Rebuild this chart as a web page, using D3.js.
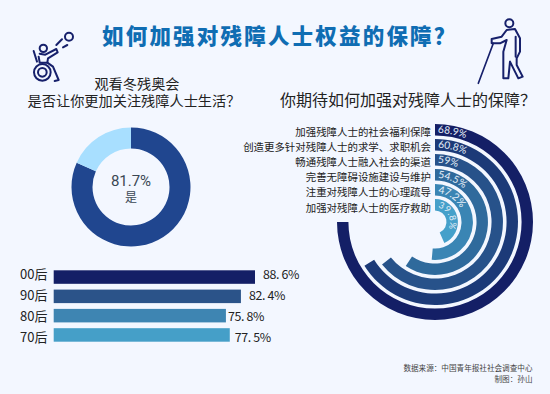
<!DOCTYPE html>
<html><head><meta charset="utf-8">
<script src="https://cdnjs.cloudflare.com/ajax/libs/d3/7.8.5/d3.min.js"></script>
<style>html,body{margin:0;padding:0;background:#f3f7ff}svg{display:block}</style></head>
<body><svg id="c" width="550" height="394"></svg>
<script>
const titleText = "如何加强对残障人士权益的保障？";
const donutValues = [81.7, 18.3];
const donutColors = ["#20468f", "#a8dfff"];
const barCats = ["00后","90后","80后","70后"];
const barValues = [88.6,82.4,75.8,77.5];
const barLabels = ["88. 6%","82. 4%","75. 8%","77. 5%"];
const barColors = ["#141f66","#2b5389","#3e85b2","#459fc8"];
const ringCats = ["加强残障人士的社会福利保障","创造更多针对残障人士的求学、求职机会","畅通残障人士融入社会的渠道","完善无障碍设施建设与维护","注重对残障人士的心理疏导","加强对残障人士的医疗救助"];
const ringValues = [68.9,60.8,59,54.5,47.2,39.8];
const ringLabels = ["68.9%","60.8%","59%","54.5%","47.2%","39.8%"];
const ringColors = ["#141f66","#1c3a78","#27528a","#2f6a9c","#3a85b4","#45a0ca"];
const FONT = "'Noto Sans CJK SC','Noto Sans',sans-serif";
const svg = d3.select("#c");
svg.append("rect").attr("width",550).attr("height",394).attr("fill","#f3f7ff");
const T=(x,y,s,size,col,anchor,w,font)=>svg.append("text").attr("x",x).attr("y",y).text(s)
 .attr("font-family",font||FONT).attr("font-size",size).attr("fill",col).attr("text-anchor",anchor||"start").attr("font-weight",w||400);
const T2=(lines,size,col,anchor,font)=>{
 const t=svg.append("text").attr("font-family",font||FONT).attr("font-size",size).attr("fill",col).attr("text-anchor",anchor);
 lines.forEach(l=>t.append("tspan").attr("x",l[0]).attr("y",l[1]).attr("font-size",l[3]||size).text(l[2]));
 return t;
};
T(102,44,titleText,21.5,"#0f6db3","start",900).attr("letter-spacing",2.2);
T2([[137,89,"观看冬残奥会"],[134,106,"是否让你更加关注残障人士生活？"]],14.2,"#222","middle");
T(408,106,"你期待如何加强对残障人士的保障？",16,"#222","middle");
// icons
const icon=(x,y)=>svg.append("g").attr("transform",`translate(${x},${y}) scale(0.3333)`)
 .attr("fill","none").attr("stroke","#16206b").attr("stroke-width",6).attr("stroke-linecap","round").attr("stroke-linejoin","round");
const w=icon(28,25);
w.append("circle").attr("cx",123).attr("cy",35).attr("r",12);
w.append("path").attr("d","M85,60L102,43M105,67L118,60");
w.append("circle").attr("cx",46).attr("cy",70).attr("r",11);
w.append("path").attr("d","M35,86L52,89L85,72L89,82L60,100L58,113L35,113L32,95M17,78L27,110");
w.append("circle").attr("cx",43).attr("cy",142).attr("r",25);
w.append("circle").attr("cx",43).attr("cy",142).attr("r",13);
w.append("path").attr("d","M58,113L75,125L92,165L80,168");
const m=icon(475,15);
m.append("circle").attr("cx",103).attr("cy",25).attr("r",12);
m.append("path").attr("d","M50,72L80,65L95,45L120,42L135,70L135,110L125,130L125,150L143,185L130,190L105,140L100,190L85,190L85,110L95,75L75,85L50,85Z");
m.append("path").attr("d","M55,85L10,205").attr("stroke-width",5);
m.append("path").attr("d","M122,65L122,125");
// donut
const don=svg.append("g").attr("transform","translate(131,187)");
const pie=d3.pie().sort(null);
don.selectAll("path").data(pie(donutValues)).join("path")
 .attr("d",d3.arc().innerRadius(38.5).outerRadius(59.5)).attr("fill",(d,i)=>donutColors[i]);
T2([[131,186,"81.7%"],[131,202,"是",12]],15,"#3a4753","middle","Roboto,'Noto Sans CJK SC',sans-serif");
// bars
const bx=d3.scaleLinear().domain([0,88.6]).range([53.7,255]);
const by=d3.scaleBand().domain(barCats).range([270.3,341.7]).paddingInner(0.3).paddingOuter(0);
const labelY=d3.scalePoint().domain(barCats).range([279,342]);
const labelGap=[8,8,2,5];
svg.selectAll(".b").data(barCats).join("rect").attr("x",bx(0)).attr("y",d=>by(d)).attr("height",by.bandwidth())
 .attr("width",(d,i)=>bx(barValues[i])-bx(0)).attr("fill",(d,i)=>barColors[i]);
barCats.forEach((c,i)=>{
 T(20,labelY(c),c,13,"#222");
 T(bx(barValues[i])+labelGap[i],labelY(c),barLabels[i],12.4,"#222").attr("letter-spacing",-0.35);
});
// rings
const cx=435,cy=222;
const ang=d3.scaleLinear().domain([0,68.9]).range([0,1.5*Math.PI]);
const rBand=d3.scaleBand().domain(d3.range(6)).range([98,11.5]).paddingInner(0.24).paddingOuter(0);
const rg=svg.append("g").attr("transform",`translate(${cx},${cy})`);
ringValues.forEach((v,i)=>{
 const r0=rBand(i), r1=r0+rBand.bandwidth();
 rg.append("path").attr("d",d3.arc().innerRadius(r0).outerRadius(r1).startAngle(0).endAngle(ang(v))()).attr("fill",ringColors[i]);
 const p=d3.path(); const rb=r0+(i==5?3.4:2.6);
 p.arc(0,0,rb,-Math.PI/2,ang(v)-Math.PI/2);
 rg.append("path").attr("id","rp"+i).attr("d",p.toString()).attr("fill","none");
 rg.append("text").attr("font-family","Lato,'Noto Sans',sans-serif").attr("font-size",i==5?9:10.2).attr("fill","#e6eff8")
  .attr("letter-spacing",i==5?0.5:0)
  .append("textPath").attr("href","#rp"+i).attr("startOffset",3).text(ringLabels[i]);
});
ringCats.forEach((c,i)=>T(431,135.5+i*15.2,c,10.45,"#222","end"));
// footer
T2([[532.5,371,"数据来源：中国青年报社社会调查中心"],[532.5,381.5,"制图：孙山"]],7.6,"#444","end");
</script></body></html>
